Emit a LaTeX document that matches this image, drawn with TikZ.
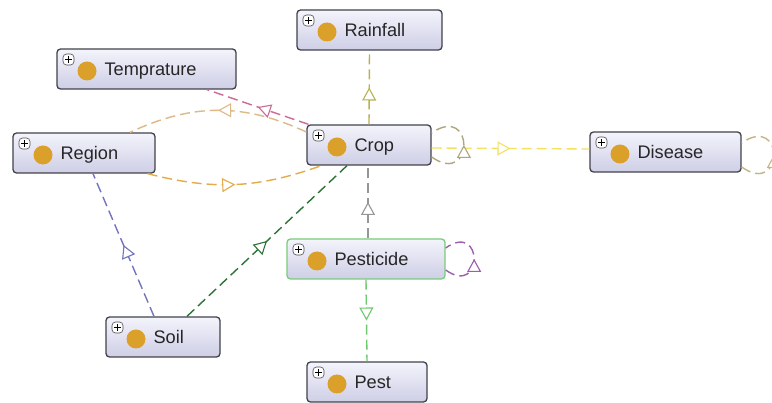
\documentclass[tikz,border=0pt]{standalone}
\usepackage{fontspec}
\setmainfont{Liberation Sans}
\usetikzlibrary{arrows.meta,decorations.markings}

% class boxes
\definecolor{clstop}{RGB}{244,244,252}
\definecolor{clsbot}{RGB}{206,206,230}
\definecolor{clsborder}{RGB}{66,66,76}
\definecolor{clsdot}{RGB}{218,160,42}
\definecolor{selgreen}{RGB}{120,205,120}
% relation colours
\definecolor{cRain}{RGB}{184,178,84}
\definecolor{cTemp}{RGB}{205,105,150}
\definecolor{cToRegion}{RGB}{222,185,135}
\definecolor{cFromRegion}{RGB}{228,172,72}
\definecolor{cDisease}{RGB}{242,226,96}
\definecolor{cPesticide}{RGB}{150,150,150}
\definecolor{cPest}{RGB}{110,200,110}
\definecolor{cSoilCrop}{RGB}{45,115,55}
\definecolor{cSoilRegion}{RGB}{115,115,195}
\definecolor{cLoopCrop}{RGB}{175,165,125}
\definecolor{cLoopDisease}{RGB}{195,180,130}
\definecolor{cLoopPest}{RGB}{155,95,175}

\tikzset{
  x=1pt, y=1pt,
  tri/.tip={Triangle[fill=white,length=13pt,width=14pt]},
  cls/.style={rectangle, rounded corners=3.5pt, draw=clsborder, line width=1.3pt,
    minimum height=40pt, inner sep=0pt, top color=clstop, bottom color=clsbot,
    path picture={
      \fill[clsdot] ([shift={(30,-2)}]path picture bounding box.west) circle (9.5pt);
      \draw[fill=white, draw=gray!60!black, line width=0.6pt]
        ([shift={(6,-5)}]path picture bounding box.north west) rectangle ++(11,-11);
      \draw[black, line width=1pt]
        ([shift={(8.3,-10.5)}]path picture bounding box.north west) -- ++(6.4,0)
        ([shift={(11.5,-7.3)}]path picture bounding box.north west) -- ++(0,-6.4);
    }},
  clsname/.style={anchor=base west, inner sep=0pt, text=black!85,
    font=\fontsize{18.2}{21}\selectfont},
  rel/.style={draw=#1, line width=1.4pt, dash pattern=on 10pt off 5pt,
    postaction=decorate,
    decoration={markings, mark=at position 0.5 with {\arrow[line width=1.1pt]{tri}}}},
}

\begin{document}
\begin{tikzpicture}
\useasboundingbox (0,0) rectangle (772,-403);
\fill[white] (0,0) rectangle (772,-403);

% classes
\node[cls, minimum width=145pt] (rainfall) at (369.5,-30) {};
\node[cls, minimum width=179pt] (temp) at (146.5,-69) {};
\node[cls, minimum width=142pt] (region) at (84,-153) {};
\node[cls, minimum width=124pt] (crop) at (369,-145) {};
\node[cls, minimum width=151pt] (disease) at (665.5,-152) {};
\node[cls, minimum width=158pt, draw=selgreen] (pesticide) at (366,-259) {};
\node[cls, minimum width=114pt] (soil) at (163,-337) {};
\node[cls, minimum width=120pt] (pest) at (367,-382) {};

% class names
\node[clsname] (rainfall-t) at ([shift={(48,-6.5)}]rainfall.west) {Rainfall};
\node[clsname] (temp-t) at ([shift={(48,-6.5)}]temp.west) {Temprature};
\node[clsname] (region-t) at ([shift={(48,-6.5)}]region.west) {Region};
\node[clsname] (crop-t) at ([shift={(48,-6.5)}]crop.west) {Crop};
\node[clsname] (disease-t) at ([shift={(48,-6.5)}]disease.west) {Disease};
\node[clsname] (pesticide-t) at ([shift={(48,-6.5)}]pesticide.west) {Pesticide};
\node[clsname] (soil-t) at ([shift={(48,-6.5)}]soil.west) {Soil};
\node[clsname] (pest-t) at ([shift={(48,-6.5)}]pest.west) {Pest};

% relations
\draw[rel=cRain] (crop.north) -- (rainfall.south);
\draw[rel=cTemp] (crop) -- (temp);
\draw[rel=cToRegion] ([yshift=13]crop.west) to[bend right=25] ([xshift=46]region.north);
\draw[rel=cFromRegion] ([xshift=-8]region.south east) to[bend right=17] ([xshift=15]crop.south west);
\draw[rel=cDisease] ([yshift=-3]crop.east) -- ([yshift=3]disease.west);
\draw[rel=cPesticide] ([xshift=2]pesticide.north) -- ([xshift=-1]crop.south);
\draw[rel=cPest] (pesticide.south) -- (pest.north);
\draw[rel=cSoilCrop] ([xshift=24]soil.north) -- ([xshift=-22]crop.south);
\draw[rel=cSoilRegion] ([xshift=-9]soil.north) -- ([xshift=9]region.south);

% self relations
\draw[rel=cLoopCrop] ([yshift=-12]crop.east) .. controls +(43,-30) and +(43,30) .. ([yshift=12]crop.east);
\draw[rel=cLoopDisease] ([yshift=-15]disease.east) .. controls +(43,-30) and +(43,30) .. ([yshift=9]disease.east);
\draw[rel=cLoopPest] ([yshift=-11]pesticide.east) .. controls +(38,-27) and +(38,27) .. ([yshift=11]pesticide.east);
\end{tikzpicture}
\end{document}
